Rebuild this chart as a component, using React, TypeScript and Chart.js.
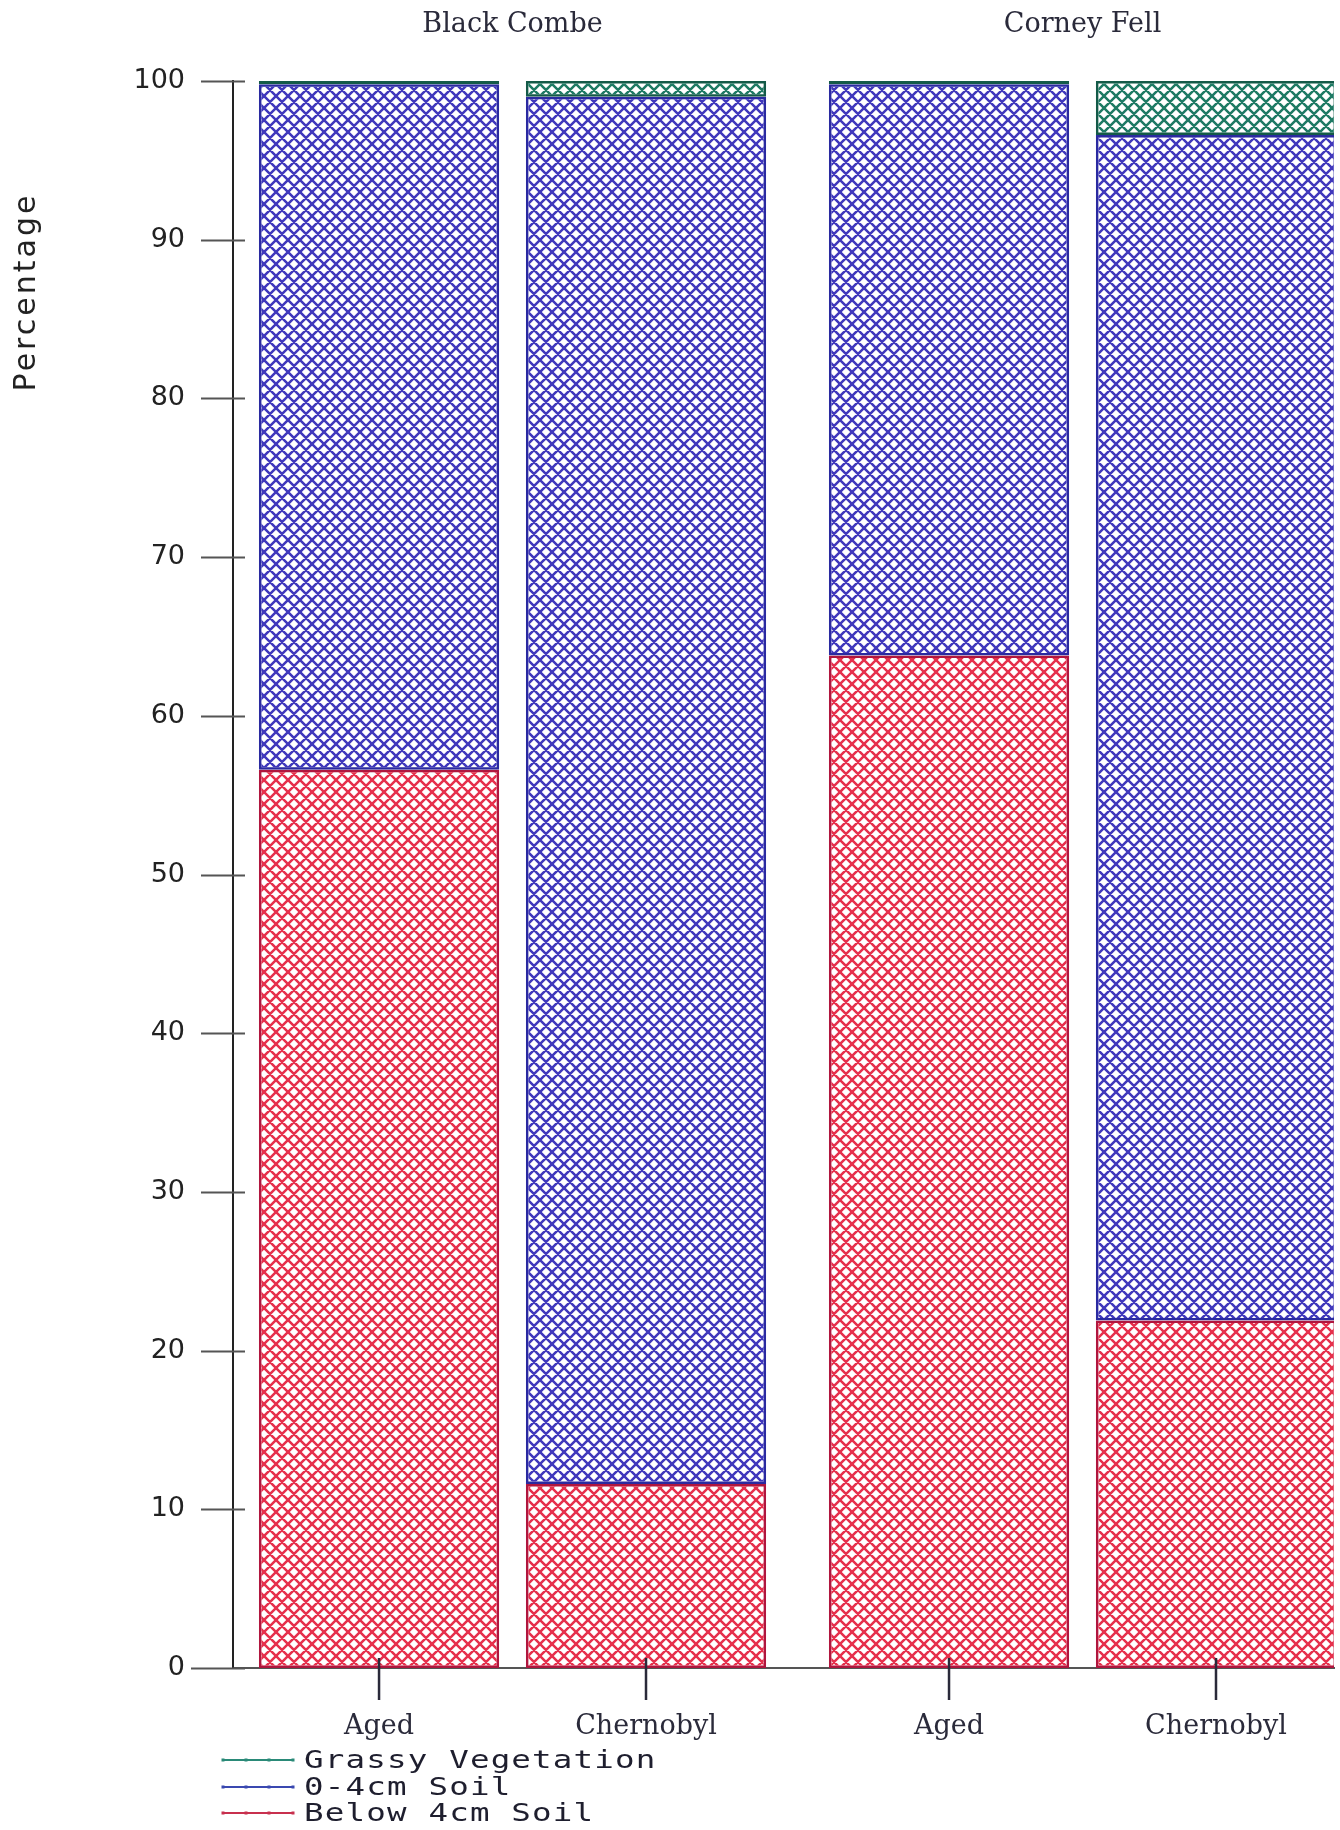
import React, { useEffect, useRef } from 'react';
import { Chart, registerables } from 'chart.js';

Chart.register(...registerables);

// ---- data ----
const sites = ['Black Combe', 'Corney Fell'];
const categories = ['Aged', 'Chernobyl', 'Aged', 'Chernobyl'];
const seriesNames = ['Below 4cm Soil', '0-4cm Soil', 'Grassy Vegetation'];
const below4cmSoil = [56.6, 11.6, 63.8, 21.9];
const soil0to4cm = [43.2, 87.4, 36.0, 74.7];
const grassyVegetation = [0.2, 1.0, 0.2, 3.4];
const yTickValues = [0, 10, 20, 30, 40, 50, 60, 70, 80, 90, 100];
const yAxisTitle = 'Percentage';

// ---- styles ----
const HATCH = ['#e6304c', '#4038bc', '#1e7a64'];
const EDGE = ['#b0163e', '#2a2aa0', '#145a48'];
const LEGEND_LINE = ['#c8304e', '#3a48b0', '#2a8a78'];
const GROUP_GAP = 0.135;
const SERIF = '"DejaVu Serif"';

function hatch(color: string): CanvasPattern {
  const s = 12;
  const c = document.createElement('canvas');
  c.width = s;
  c.height = s;
  const g = c.getContext('2d')!;
  g.strokeStyle = color;
  g.lineWidth = 2.5;
  g.beginPath();
  for (let k = -1; k <= 1; k++) {
    g.moveTo(k * s, 0);
    g.lineTo(k * s + s, s);
    g.moveTo(k * s + s, 0);
    g.lineTo(k * s, s);
  }
  g.stroke();
  return g.createPattern(c, 'repeat')!;
}

export default function App() {
  const ref = useRef<HTMLCanvasElement>(null);

  useEffect(() => {
    const canvas = ref.current!;
    const xPos = categories.map((_, i) => i + Math.floor(i / 2) * GROUP_GAP);
    const groupCenters = sites.map((_, g) => (xPos[2 * g] + xPos[2 * g + 1]) / 2);
    const series = [below4cmSoil, soil0to4cm, grassyVegetation];

    const datasets = series.map((vals, s) => ({
      label: seriesNames[s],
      data: vals.map((v, i) => ({ x: xPos[i], y: v })),
      backgroundColor: hatch(HATCH[s]),
      borderColor: EDGE[s],
      borderWidth: 2.5,
      borderSkipped: false as const,
      categoryPercentage: 1,
      barPercentage: 0.9,
      legendColor: LEGEND_LINE[s],
    }));

    const decor = {
      id: 'decor',
      afterDraw(chart: any) {
        const ctx = chart.ctx as CanvasRenderingContext2D;
        const ys = chart.scales.y;
        const xs = chart.scales.x;
        ctx.save();
        // y tick marks (crossing the axis)
        ctx.strokeStyle = '#555';
        ctx.lineWidth = 2;
        ys.ticks.forEach((t: any) => {
          const py = Math.round(ys.getPixelForValue(t.value)) + 0.5;
          ctx.beginPath();
          ctx.moveTo(t.value === 0 ? 191 : ys.right - 32, py);
          ctx.lineTo(ys.right + 12, py);
          ctx.stroke();
        });
        // x tick marks
        ctx.strokeStyle = '#2a2a3a';
        ctx.lineWidth = 2.5;
        xs.ticks.forEach((t: any) => {
          const px = xs.getPixelForValue(t.value);
          ctx.beginPath();
          ctx.moveTo(px, xs.top - 10);
          ctx.lineTo(px, xs.top + 32);
          ctx.stroke();
        });
        // y axis title
        ctx.fillStyle = '#222';
        ctx.font = '30px "DejaVu Sans"';
        (ctx as any).letterSpacing = '3px';
        ctx.textAlign = 'center';
        ctx.textBaseline = 'middle';
        ctx.translate(27, 292);
        ctx.rotate(-Math.PI / 2);
        ctx.fillText(yAxisTitle, 0, 0);
        (ctx as any).letterSpacing = '0px';
        ctx.restore();

        // legend
        const ds = chart.data.datasets.slice().reverse();
        const rowY = [1760, 1787, 1813];
        ds.forEach((d: any, i: number) => {
          const y = rowY[i];
          ctx.save();
          ctx.strokeStyle = d.legendColor;
          ctx.lineWidth = 1.8;
          ctx.beginPath();
          ctx.moveTo(223, y);
          ctx.lineTo(293, y);
          ctx.stroke();
          ctx.fillStyle = d.legendColor;
          [223, 246, 269, 293].forEach((px) => {
            ctx.fillRect(px - 1.5, y - 1.5, 3, 3);
          });
          ctx.fillStyle = '#1e1e2e';
          ctx.font = '25px "DejaVu Sans Mono"';
          (ctx as any).letterSpacing = '0.9px';
          ctx.textAlign = 'left';
          ctx.textBaseline = 'middle';
          ctx.translate(304, y + 1);
          ctx.scale(1.3, 1);
          ctx.fillText(d.label, 0, 0);
          (ctx as any).letterSpacing = '0px';
          ctx.restore();
        });
      },
    };

    const xMin = -0.547;
    const xMax = 3.577;

    const chart = new Chart(canvas, {
      type: 'bar',
      data: { datasets: datasets as any },
      options: {
        animation: false,
        responsive: false,
        devicePixelRatio: 1,
        layout: { padding: { left: 0, right: 6, top: 0, bottom: 0 } },
        plugins: {
          legend: { display: false },
          tooltip: { enabled: false },
        },
        scales: {
          x: {
            type: 'linear',
            position: 'bottom',
            offset: false,
            stacked: true,
            min: xMin,
            max: xMax,
            afterBuildTicks: (s: any) => {
              s.ticks = xPos.map((v) => ({ value: v }));
            },
            afterFit: (s: any) => {
              s.height = 162;
            },
            grid: { display: false, drawTicks: false, offset: false },
            border: { display: true, color: '#555', width: 2 },
            ticks: {
              autoSkip: false,
              maxRotation: 0,
              padding: 43,
              color: '#2a2a3a',
              font: { family: SERIF, size: 27 },
              callback: (_v: any, i: number) => categories[i],
            },
          },
          x2: {
            type: 'linear',
            position: 'top',
            offset: false,
            min: xMin,
            max: xMax,
            afterBuildTicks: (s: any) => {
              s.ticks = groupCenters.map((v) => ({ value: v }));
            },
            afterFit: (s: any) => {
              s.height = 81;
            },
            grid: { display: false, drawTicks: false, offset: false },
            border: { display: false },
            ticks: {
              autoSkip: false,
              maxRotation: 0,
              padding: 40,
              color: '#2a2a3a',
              font: { family: SERIF, size: 27 },
              callback: (_v: any, i: number) => sites[i],
            },
          },
          y: {
            type: 'linear',
            stacked: true,
            min: 0,
            max: 100,
            afterBuildTicks: (s: any) => {
              s.ticks = yTickValues.map((v) => ({ value: v }));
            },
            afterFit: (s: any) => {
              s.width = 233;
            },
            grid: { display: false, drawTicks: false },
            border: { display: true, color: '#222', width: 2 },
            ticks: {
              padding: 48,
              color: '#222',
              font: { family: '"DejaVu Sans"', size: 27 },
            },
          },
        },
      },
      plugins: [decor],
    } as any);

    return () => chart.destroy();
  }, []);

  return (
    <div style={{ position: 'fixed', left: 0, top: 0, width: 1340, height: 1830, background: '#fff' }}>
      <canvas ref={ref} width={1340} height={1830} style={{ display: 'block', width: 1340, height: 1830 }} />
    </div>
  );
}
